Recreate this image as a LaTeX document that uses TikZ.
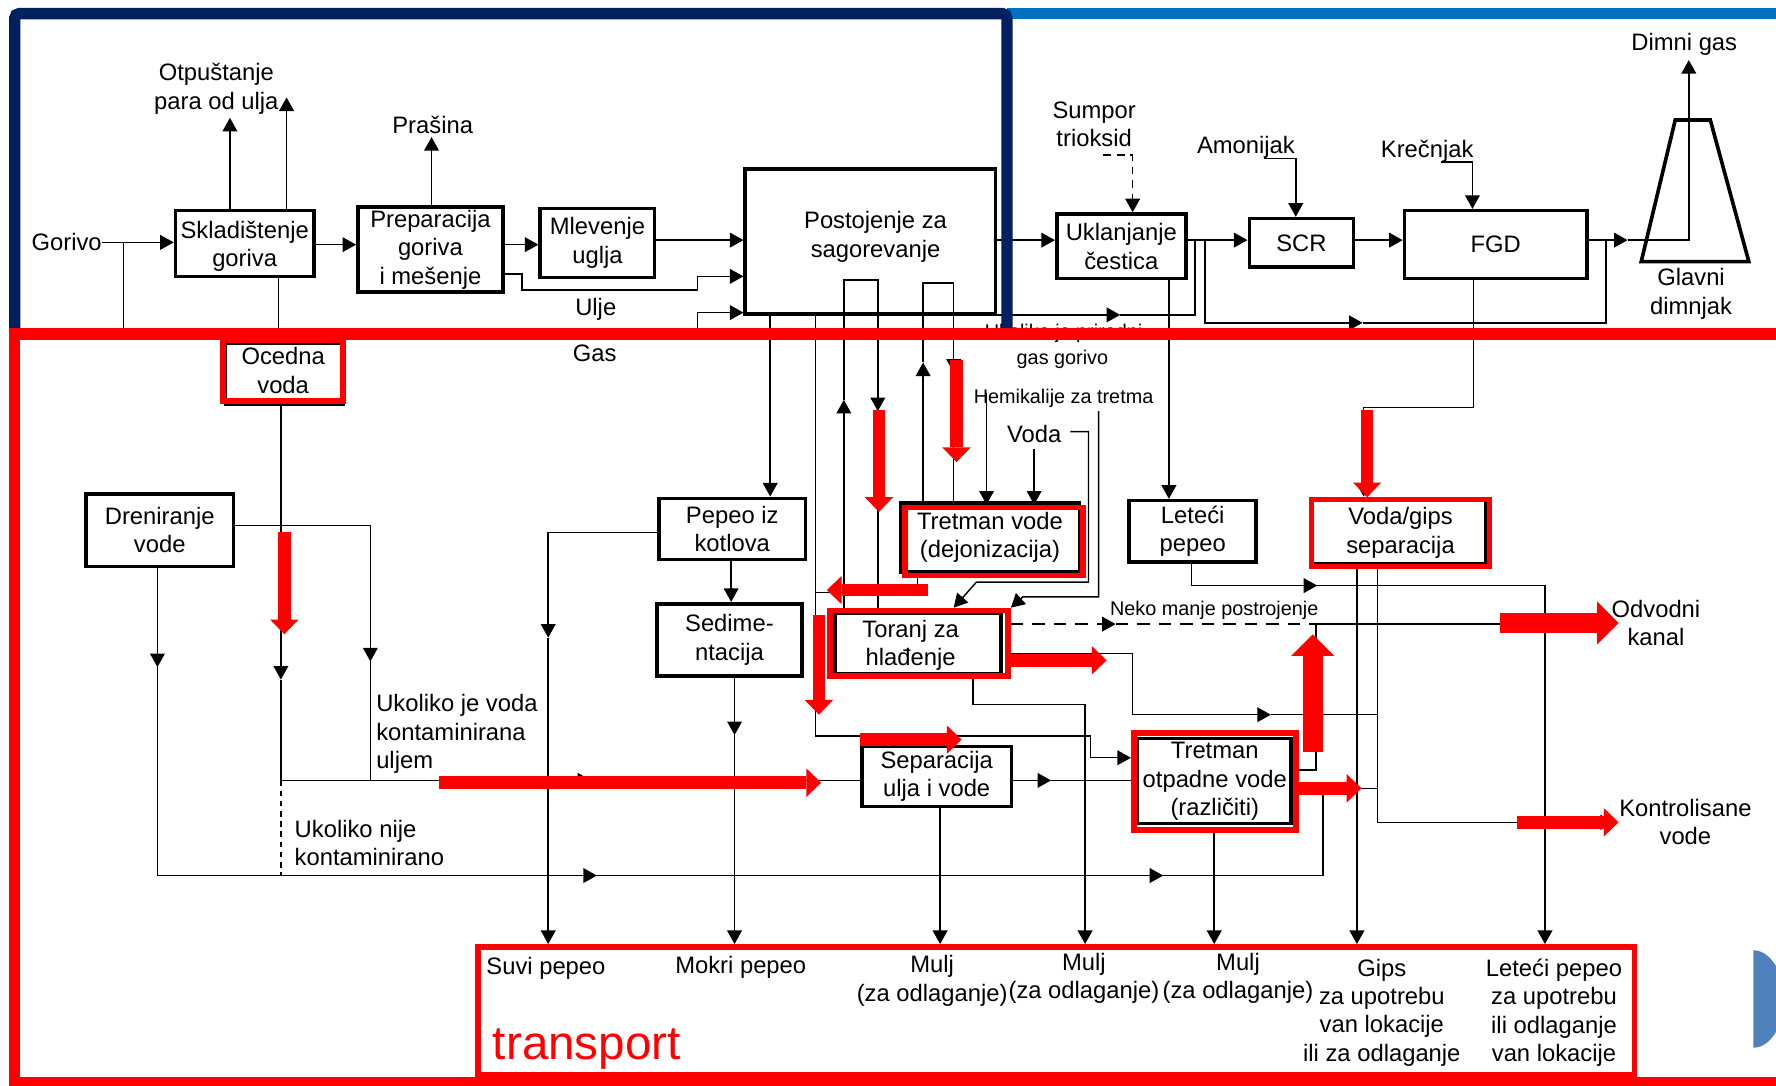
\documentclass[tikz,border=0pt]{standalone}
\usepackage{fontspec}
\setmainfont{Liberation Sans}
\usetikzlibrary{arrows.meta,calc}
\newcommand\fmain{\fontsize{21}{25}\selectfont}
\newcommand\fsmall{\fontsize{17.5}{21}\selectfont}
\definecolor{navyframe}{HTML}{002060}
\definecolor{blueframe}{HTML}{0070C0}
\definecolor{discblue}{HTML}{4F81BD}

\begin{document}
\begin{tikzpicture}[x=1pt,y=-1pt,
  ln/.style={line width=1.3pt},
  arr/.style={line width=1.3pt,-{Triangle[length=12pt,width=13pt]}},
  dshS/.style={line width=1.3pt,dash pattern=on 7pt off 5pt},
  dshN/.style={line width=1.3pt,dash pattern=on 11pt off 8pt},
  dshV/.style={line width=1.3pt,dash pattern=on 5pt off 4pt},
  box/.style={draw,line width=3.2pt,align=center,font=\fmain,inner sep=0pt},
  rbox/.style={draw=red,line width=5pt,align=center,font=\fmain,inner sep=0pt},
  blk/.style={line width=3.2pt},
  lbl/.style={align=center,font=\fmain,inner sep=0pt,yshift=-2pt},
  slbl/.style={align=center,font=\fsmall,inner sep=0pt,yshift=-2pt},
  rarr/.style={draw=red,line width=11pt,-{Triangle[length=13pt,width=25pt,line width=0pt]}},
  rarrbig/.style={draw=red,line width=18pt,-{Triangle[length=19pt,width=38pt,line width=0pt]}},
]
\useasboundingbox (0,0) rectangle (1568,958);
\fill[white] (0,0) rectangle (1568,958);

% black frames under the red-highlighted units
\draw[blk] (199,303) rectangle (303,357);
\draw[blk] (795,444) rectangle (953,505);
\draw[blk] (737,541) rectangle (884,595);
\draw[blk] (1004,652) rectangle (1140,727);
\draw[blk] (1158,440) rectangle (1312,498);

% ---------- process units ----------
\node[lbl,anchor=east] (gorivo) at (90,212) {Gorivo};
\node[box,minimum width=122pt,minimum height=58pt] (sklad) at (216,215) {};
\node[lbl] (skladl) at (216,215.5) {Skladištenje\\goriva};
\node[box,minimum width=128pt,minimum height=75pt] (prep) at (380,220.5) {Preparacija\\goriva\\i mešenje};
\node[box,minimum width=101pt,minimum height=61pt] (mlev) at (527.5,214.5) {Mlevenje\\uglja};
\node[box,minimum width=221pt,minimum height=128pt] (post) at (768.5,213) {};
\node[lbl] (postl) at (773,207) {Postojenje za\\sagorevanje};
\node[box,minimum width=114pt,minimum height=57pt] (ukl) at (990,217.5) {Uklanjanje\\čestica};
\node[box,minimum width=92pt,minimum height=43pt] (scr) at (1149,214.5) {SCR};
\node[box,minimum width=161pt,minimum height=60pt] (fgd) at (1320.5,216) {FGD};

\coordinate (ch1) at (1479,106); \coordinate (ch2) at (1510,106);
\coordinate (ch3) at (1544,231); \coordinate (ch4) at (1449,231);
\draw[blk] (ch1) -- (ch2) -- (ch3) -- (ch4) -- cycle;

\node[rbox,minimum width=106pt,minimum height=54pt] (ocedna) at (250,327) {Ocedna\\voda};
\node[box,minimum width=130pt,minimum height=64pt] (dren) at (141,468) {Dreniranje\\vode};
\node[box,minimum width=129pt,minimum height=54pt] (pepeo) at (646.5,467) {Pepeo iz\\kotlova};
\node[box,minimum width=128pt,minimum height=64pt] (sedim) at (644,565) {Sedime-\\ntacija};
\node[rbox,minimum width=157pt,minimum height=60pt] (tretv) at (877.5,478) {};
\node[lbl] (tretvl) at (874,472.5) {Tretman vode\\(dejonizacija)};
\node[rbox,minimum width=157pt,minimum height=58pt] (toranj) at (811.5,568) {};
\node[lbl] (toranjl) at (804,567.5) {Toranj za\\hlađenje};
\node[box,minimum width=132pt,minimum height=53pt] (sep) at (827,685.5) {Separacija\\ulja i vode};
\node[rbox,minimum width=143pt,minimum height=86pt] (treto) at (1072.5,690) {Tretman\\otpadne vode\\(različiti)};
\node[box,minimum width=112pt,minimum height=54pt] (letp) at (1053,469) {Leteći\\pepeo};
\node[rbox,minimum width=157pt,minimum height=59pt] (vgips) at (1236.5,470.5) {Voda/gips\\separacija};
\node[draw=red,line width=5pt,minimum width=1021pt,minimum height=113pt,inner sep=0pt] (transp) at (932.5,892.5) {};

% ---------- labels ----------
\node[lbl] (otp) at (191,76.5) {Otpuštanje\\para od ulja};
\node[lbl] (pras) at (382,108) {Prašina};
\node[lbl] (ulje) at (526,271) {Ulje};
\node[lbl] (gas) at (525,310) {Gas};
\node[lbl] (sump) at (966,107.5) {Sumpor\\trioksid};
\node[lbl] (amon) at (1100,128) {Amonijak};
\node[lbl] (krec) at (1260,132) {Krečnjak};
\node[lbl] (dimg) at (1487,37) {Dimni gas};
\node[lbl] (glav) at (1493,257.5) {Glavni\\dimnjak};
\node[font=\fsmall,inner sep=0pt,anchor=base] (ukp) at (939,299) {Ukoliko je prirodni};
\node[slbl] (ggor) at (938,315) {gas gorivo};
\node[slbl] (hemi) at (939,350) {Hemikalije za tretma};
\node[lbl] (voda) at (913,381) {Voda};
\node[slbl] (neko) at (1072,537) {Neko manje postrojenje};
\node[lbl] (odv) at (1462,548) {Odvodni\\kanal};
\node[lbl] (kont) at (1488,723.5) {Kontrolisane\\vode};
\node[lbl,anchor=west,align=left] (uk1) at (332,646) {Ukoliko je voda\\kontaminirana\\uljem};
\node[lbl,anchor=west,align=left] (uk2) at (260,742.5) {Ukoliko nije\\kontaminirano};

\node[lbl] (suvi) at (482,853) {Suvi pepeo};
\node[lbl] (mokri) at (654,852) {Mokri pepeo};
\node[lbl] (mulj1) at (823,864) {Mulj\\(za odlaganje)};
\node[lbl] (mulj2) at (957,861.5) {Mulj\\(za odlaganje)};
\node[lbl] (mulj3) at (1093,861.5) {Mulj\\(za odlaganje)};
\node[lbl] (gips) at (1220,892) {Gips\\za upotrebu\\van lokacije\\ili za odlaganje};
\node[lbl] (letpo) at (1372,892) {Leteći pepeo\\za upotrebu\\ili odlaganje\\van lokacije};
\node[anchor=base west,text=red,font=\fontsize{42}{48}\selectfont,inner sep=0pt] (trl) at (435,935) {transport};

% ---------- upper connectors ----------
\coordinate (r216) at (0,216);
\coordinate (r212) at (0,212);
\coordinate (gj) at (109,214); \coordinate (gjd) at (109,295);
\draw[arr] (gorivo.east |- gj) -- (sklad.west |- gj);
\draw[ln] (gj) -- (gjd);
\coordinate (otpA) at (203,104); \coordinate (otpB) at (253,86);
\draw[arr] (sklad.north -| otpA) -- (otpA);
\draw[arr] (sklad.north -| otpB) -- (otpB);
\coordinate (xoc) at (246,0);
\draw[ln] (sklad.south -| xoc) -- (ocedna.north -| xoc);
\draw[arr] (sklad.east |- r216) -- (prep.west |- r216);
\coordinate (prasA) at (381,121);
\draw[arr] (prep.north -| prasA) -- (prasA);
\draw[arr] (prep.east |- r216) -- (mlev.west |- r216);
\coordinate (u1) at (461,242); \coordinate (u2) at (461,256);
\coordinate (u3) at (616,256); \coordinate (u4) at (616,244);
\draw[arr] (prep.east |- u1) -- (u1) -- (u2) -- (u3) -- (u4) -- (post.west |- u4);
\draw[arr] (mlev.east |- r212) -- (post.west |- r212);
\coordinate (g1) at (616,295); \coordinate (g2) at (616,276);
\draw[arr] (g1) -- (g2) -- (post.west |- g2);
\draw[arr] (post.east |- r212) -- (ukl.west |- r212);
\coordinate (b1m) at (989,278); \coordinate (b1c) at (1055,278); \coordinate (b1t) at (1055,212);
\draw[arr] (post.east |- b1m) -- (b1m);
\draw[ln] (b1m) -- (b1c) -- (b1t);
\draw[arr] (ukl.east |- r212) -- (scr.west |- r212);
\coordinate (b2t) at (1064,212); \coordinate (b2a) at (1064,285); \coordinate (b2m) at (1203,285);
\coordinate (b2b) at (1418,285); \coordinate (b2c) at (1418,212);
\draw[arr] (b2t) -- (b2a) -- (b2m);
\draw[ln] (b2m) -- (b2b) -- (b2c);
\draw[arr] (scr.east |- r212) -- (fgd.west |- r212);
\coordinate (chin) at (1437,212); \coordinate (chup) at (1491,212); \coordinate (dimA) at (1491,53);
\draw[arr] (fgd.east |- chin) -- (chin);
\draw[arr] (chin) -- (chup) -- (dimA);
\coordinate (s1) at (974,137); \coordinate (s2) at (1000,137);
\draw[dshS,-{Triangle[length=12pt,width=13pt]}] (s1) -- (s2) -- (ukl.north -| s2);
\coordinate (a1) at (1116,140); \coordinate (a2) at (1144,140);
\draw[arr] (a1) -- (a2) -- (scr.north -| a2);
\coordinate (k1) at (1272,143); \coordinate (k2) at (1300,143);
\draw[arr] (k1) -- (k2) -- (fgd.north -| k2);
\coordinate (xlp) at (1032,0);
\draw[arr] (ukl.south -| xlp) -- (letp.north -| xlp);
\coordinate (f1) at (1301,360); \coordinate (f2) at (1204,360);
\draw[arr] (fgd.south -| f1) -- (f1) -- (f2) -- (vgips.north -| f2);

% ---------- combustion plant outlets ----------
\coordinate (xpk) at (680,0);
\draw[arr] (post.south -| xpk) -- (pepeo.north -| xpk);
\coordinate (c1) at (720,650); \coordinate (c2) at (963,650); \coordinate (c3) at (963,669);
\draw[arr] (post.south -| c1) -- (c1) -- (c2) -- (c3) -- (treto.west |- c3);
\coordinate (tv1) at (810,523); \coordinate (tv2) at (720,523);
\draw[ln] (tretv.south -| tv1) -- (tv1) -- (tv2);
\coordinate (l1u) at (745,353); \coordinate (l1a) at (745,247);
\coordinate (l1b) at (775,247); \coordinate (l1d) at (775,363);
\draw[arr] (toranj.north -| l1u) -- (l1u);
\draw[arr] (l1u) -- (l1a) -- (l1b) -- (l1d);
\draw[ln] (l1d) -- (toranj.north -| l1d);
\coordinate (l2u) at (815,320); \coordinate (l2a) at (815,250);
\coordinate (l2b) at (842,250); \coordinate (l2d) at (842,329);
\draw[arr] (tretv.north -| l2u) -- (l2u);
\draw[arr] (l2u) -- (l2a) -- (l2b) -- (l2d);
\draw[ln] (l2d) -- (tretv.north -| l2d);

% ---------- water treatment ----------
\coordinate (hm) at (871,347); \coordinate (vd) at (913,396);
\draw[arr] (hm) -- (tretv.north -| hm);
\draw[arr] (vd) -- (tretv.north -| vd);
\coordinate (v1) at (945,381); \coordinate (v2) at (961,381); \coordinate (v3) at (961,514);
\coordinate (v4) at (862,514); \coordinate (v5) at (842,0);
\draw[arr] (v1) -- (v2) -- (v3) -- (v4) -- (toranj.north -| v5);
\coordinate (h1) at (970,363); \coordinate (h2) at (970,527); \coordinate (h3) at (903,527);
\draw[arr] (h1) -- (h2) -- (h3) -- (toranj.north east);
\coordinate (nd) at (985,551); \coordinate (ne) at (1163,551); \coordinate (od) at (1420,551);
\draw[dshN,-{Triangle[length=12pt,width=13pt]}] (toranj.east |- nd) -- (nd);
\draw[dshN] (nd) -- (ne);
\draw[arr] (ne) -- (od);
\coordinate (t1) at (1000,577); \coordinate (t2) at (1000,631);
\coordinate (t3) at (1122,631); \coordinate (t4) at (1216,631);
\draw[arr] (toranj.east |- t1) -- (t1) -- (t2) -- (t3);
\draw[ln] (t3) -- (t4);
\coordinate (tb1) at (859,622); \coordinate (tb2) at (958,622);
\draw[arr] (toranj.south -| tb1) -- (tb1) -- (tb2) -- (transp.north -| tb2);
\coordinate (tu1) at (1162,680); \coordinate (tu2) at (1162,551);
\draw[ln] (treto.east |- tu1) -- (tu1) -- (tu2);
\coordinate (tr1) at (1216,696);
\draw[ln] (treto.east |- tr1) -- (tr1);
\coordinate (xg) at (1198,0);
\draw[arr] (vgips.south -| xg) -- (transp.north -| xg);
\coordinate (xk) at (1216,726); \coordinate (kend) at (1425,726);
\draw[ln] (vgips.south -| xk) -- (xk);
\draw[arr] (xk) -- (kend);
\coordinate (lp1) at (1052,517); \coordinate (lp2) at (1163,517); \coordinate (lp3) at (1364,517);
\draw[arr] (letp.south -| lp1) -- (lp1) -- (lp2);
\draw[arr] (lp2) -- (lp3) -- (transp.north -| lp3);

% ---------- ash and sludge ----------
\coordinate (pk1) at (484,470); \coordinate (pk2) at (484,563);
\draw[arr] (pepeo.west |- pk1) -- (pk1) -- (pk2);
\draw[arr] (pk2) -- (transp.north -| pk2);
\coordinate (xps) at (645.5,0);
\draw[arr] (pepeo.south -| xps) -- (sedim.north -| xps);
\coordinate (sd1) at (648.5,649);
\draw[arr] (sedim.south -| sd1) -- (sd1);
\draw[arr] (sd1) -- (transp.north -| sd1);
\coordinate (xsp) at (830,0);
\draw[arr] (sep.south -| xsp) -- (transp.north -| xsp);
\coordinate (xto) at (1072,0);
\draw[arr] (treto.south -| xto) -- (transp.north -| xto);
\coordinate (st) at (928,689);
\draw[arr] (sep.east |- st) -- (st);
\draw[ln] (st) -- (treto.west |- st);

% ---------- drainage water ----------
\coordinate (oc1) at (248,600); \coordinate (oc2) at (248,689);
\coordinate (oc3) at (522,689); \coordinate (oc4) at (248,773);
\draw[arr] (ocedna.south -| oc1) -- (oc1);
\draw[arr] (oc1) -- (oc2) -- (oc3);
\draw[ln] (oc3) -- (sep.west |- oc3);
\draw[dshV] (oc2) -- (oc4);
\coordinate (dr1) at (327,464); \coordinate (dr2) at (327,584); \coordinate (dr3) at (327,689);
\draw[arr] (dren.east |- dr1) -- (dr1) -- (dr2);
\draw[ln] (dr2) -- (dr3);
\coordinate (db1) at (139,589); \coordinate (db2) at (139,773); \coordinate (db3) at (527,773);
\coordinate (db4) at (1027,773); \coordinate (db5) at (1168,773); \coordinate (db6) at (1168,696);
\draw[arr] (dren.south -| db1) -- (db1);
\draw[arr] (db1) -- (db2) -- (db3);
\draw[arr] (db3) -- (db4);
\draw[ln] (db4) -- (db5) -- (db6);

% ---------- highlighted flows ----------
\draw[rarr] (251,470) -- (251,560);
\draw[rarr] (388,691) -- (725,691);
\draw[rarr] (776,362) -- (776,452);
\draw[rarr] (844.5,318) -- (844.5,408);
\draw[rarr] (819,521) -- (730,521);
\draw[rarr] (723,543) -- (723,631);
\draw[rarr] (890,583) -- (977,583);
\draw[rarr] (759,653) -- (849,653);
\draw[rarrbig] (1159,664) -- (1159,560);
\draw[rarr] (1144,696) -- (1202,696);
\draw[rarrbig] (1324,550) -- (1429,550);
\draw[rarr] (1339,726) -- (1429,726);
\draw[rarr] (1207,362) -- (1207,439);

% ---------- area frames ----------
\draw[blueframe,line width=9pt] (889,12) -- (1590,12);
\draw[navyframe,line width=10pt,rounded corners=4pt] (13,295) -- (13,12) -- (889,12) -- (889,290);
\draw[red,line width=10pt] (1590,295) -- (13,295) -- (13,956) -- (1590,956);

\begin{scope}
  \clip (1548,820) rectangle (1600,950);
  \fill[discblue] (1548,882) ellipse [x radius=27, y radius=43];
\end{scope}
\end{tikzpicture}
\end{document}
